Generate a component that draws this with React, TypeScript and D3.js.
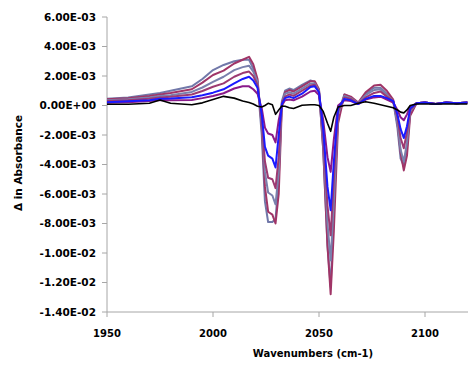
import React from "react";
import * as d3 from "d3";

// wavenumbers (cm-1) shared by every trace
const wavenumbers = [
  1950, 1960, 1970, 1975, 1980, 1990, 1995, 2000, 2005, 2010, 2014, 2017, 2019, 2021, 2023, 2024.5,
  2026, 2028, 2029.5, 2031, 2032.5, 2034, 2036, 2038, 2042, 2046, 2048, 2050, 2052, 2054,
  2055.5, 2057, 2059, 2062, 2065, 2068.5, 2072, 2076, 2079, 2082, 2085, 2087, 2088.5, 2090,
  2091.5, 2093, 2096, 2100, 2105, 2110, 2115, 2120,
];

// values in units of 1e-3 absorbance
const slateA = [
  0.45, 0.55, 0.75, 0.85, 1.0, 1.3, 1.8, 2.4, 2.75, 3.0, 3.1, 3.1, 2.5, 1.6, -2.0, -6.5,
  -7.9, -7.9, -7.7, -5.0, 0.3, 1.0, 1.15, 1.05, 1.4, 1.7, 1.6, 1.0, -3.0, -9.5,
  -12.3, -7.0, -0.5, 0.75, 0.55, 0.15, 0.8, 1.2, 1.2, 0.8, 0.3, -1.5, -3.6, -4.1,
  -2.8, -0.5, 0.15, 0.2, 0.1, 0.2, 0.15, 0.2,
];
const maroonB = [
  0.42, 0.5, 0.65, 0.75, 0.85, 1.1, 1.55, 2.07, 2.36, 2.85, 3.1, 3.3, 2.8, 1.8, -1.5, -5.5,
  -7.2, -7.4, -8.0, -6.0, 0.0, 0.9, 1.05, 0.95, 1.3, 1.65, 1.65, 1.1, -3.0, -9.5,
  -12.8, -8.5, -1.2, 0.75, 0.6, 0.2, 0.9, 1.35, 1.4, 1.0, 0.4, -1.2, -3.2, -4.4,
  -3.4, -0.7, 0.15, 0.2, 0.1, 0.2, 0.15, 0.2,
];
const slateC = [
  0.35, 0.42, 0.55, 0.65, 0.7, 0.92, 1.22, 1.6, 1.95, 2.4, 2.6, 2.7, 2.3, 1.6, -1.3, -4.5,
  -5.9, -6.1, -6.7, -4.5, 0.2, 0.8, 0.9, 0.8, 1.15, 1.5, 1.5, 1.0, -2.5, -8.0,
  -10.5, -6.5, -0.6, 0.65, 0.5, 0.15, 0.7, 1.05, 1.1, 0.7, 0.3, -1.2, -3.0, -3.8,
  -2.5, -0.4, 0.15, 0.2, 0.1, 0.2, 0.15, 0.2,
];
const maroonD = [
  0.3, 0.35, 0.45, 0.55, 0.6, 0.75, 0.98, 1.27, 1.5, 1.95, 2.2, 2.3, 2.0, 1.4, -1.0, -3.8,
  -4.9, -5.0, -5.6, -3.5, 0.2, 0.6, 0.75, 0.65, 1.0, 1.35, 1.4, 0.9, -2.0, -6.8,
  -8.8, -5.0, -0.4, 0.55, 0.45, 0.12, 0.55, 0.85, 0.95, 0.6, 0.3, -0.8, -2.2, -2.9,
  -1.8, -0.3, 0.15, 0.2, 0.1, 0.2, 0.15, 0.2,
];
const blueE = [
  0.22, 0.28, 0.35, 0.45, 0.47, 0.56, 0.7, 0.87, 1.1, 1.5, 1.8, 1.95, 1.7, 1.2, -0.6, -2.8,
  -3.4, -3.6, -4.2, -2.0, 0.1, 0.5, 0.6, 0.5, 0.8, 1.25, 1.3, 0.9, -1.6, -5.5,
  -7.1, -3.8, -0.2, 0.45, 0.35, 0.1, 0.45, 0.65, 0.65, 0.5, 0.3, -0.6, -1.6, -2.2,
  -1.4, -0.2, 0.15, 0.2, 0.1, 0.2, 0.15, 0.2,
];
const purpleF = [
  0.18, 0.22, 0.3, 0.38, 0.35, 0.38, 0.5, 0.64, 0.83, 1.15, 1.3, 1.3, 1.1, 0.8, -0.2, -1.5,
  -1.9, -2.0, -2.5, -1.0, 0.0, 0.35, 0.4, 0.35, 0.6, 0.95, 1.0, 0.7, -1.0, -3.5,
  -4.5, -2.3, 0.0, 0.35, 0.3, 0.1, 0.4, 0.55, 0.6, 0.4, 0.2, -0.3, -0.8, -1.0,
  -0.6, -0.1, 0.15, 0.2, 0.1, 0.2, 0.15, 0.2,
];
const blackRef = [
  0.08, 0.08, 0.15, 0.37, 0.15, 0.05, 0.18, 0.4, 0.62, 0.5, 0.3, 0.2, 0.1, -0.05, -0.1, 0.0,
  0.15, 0.05, -0.6, -0.3, -0.03, -0.05, -0.15, -0.2, 0.02, 0.05, 0.05, 0.0, -0.4, -1.2,
  -1.75, -0.8, -0.1, 0.0, 0.0, 0.15, 0.25, 0.15, 0.05, -0.05, -0.15, -0.3, -0.45, -0.5,
  -0.3, 0.0, 0.1, 0.1, 0.1, 0.1, 0.1, 0.1,
];

const yTicks = [6, 4, 2, 0, -2, -4, -6, -8, -10, -12, -14];
const xTicks = [1950, 2000, 2050, 2100];

const series = [
  { values: slateA, color: "#7178a9", width: 2 },
  { values: maroonB, color: "#a03567", width: 2 },
  { values: slateC, color: "#7a80ad", width: 2 },
  { values: maroonD, color: "#9c3a72", width: 2 },
  { values: purpleF, color: "#8a1a8a", width: 2 },
  { values: blueE, color: "#1a1aff", width: 2 },
  { values: blackRef, color: "#000000", width: 1.6 },
];

const fmt = (v: number) => {
  const [m, e] = v.toExponential(2).split("e");
  const n = parseInt(e, 10);
  return m + "E" + (n < 0 ? "-" : "+") + String(Math.abs(n)).padStart(2, "0");
};

const App = () => {
  const left = 107;
  const right = 467.4;
  const top = 17;
  const bottom = 312;

  const x = d3.scaleLinear().domain([1950, 2120]).range([left, right]);
  const y = d3.scaleLinear().domain([-0.014, 0.006]).range([bottom, top]);

  const line = d3
    .line<number>()
    .x((_, i) => x(wavenumbers[i]))
    .y((d) => y(d * 1e-3));

  const font = "'DejaVu Sans', sans-serif";
  const axisColor = "#a6a6a6";

  return (
    <svg
      width={469}
      height={369}
      style={{ position: "absolute", left: 0, top: 0, background: "white" }}
    >
      {/* y axis */}
      <line x1={left} x2={left} y1={top} y2={bottom} stroke={axisColor} strokeWidth={1} />
      {yTicks.map((t) => (
        <g key={t}>
          <line x1={left - 5} x2={left} y1={y(t * 1e-3)} y2={y(t * 1e-3)} stroke={axisColor} />
          <text
            x={96}
            y={y(t * 1e-3)}
            dy="0.36em"
            textAnchor="end"
            fontFamily={font}
            fontWeight="bold"
            fontSize={10.5}
            fill="#000"
          >
            {fmt(t * 1e-3)}
          </text>
        </g>
      ))}
      {/* x axis */}
      <line x1={left} x2={468} y1={bottom} y2={bottom} stroke={axisColor} strokeWidth={1} />
      {xTicks.map((t) => (
        <g key={t}>
          <line x1={x(t)} x2={x(t)} y1={bottom} y2={bottom + 5} stroke={axisColor} />
          <text
            x={x(t)}
            y={337}
            textAnchor="middle"
            fontFamily={font}
            fontWeight="bold"
            fontSize={10}
            fill="#000"
          >
            {t}
          </text>
        </g>
      ))}

      {series.map((s, i) => (
        <path
          key={i}
          d={line(s.values) || ""}
          fill="none"
          stroke={s.color}
          strokeWidth={s.width}
          strokeLinejoin="round"
        />
      ))}

      <text
        x={313}
        y={357}
        textAnchor="middle"
        fontFamily={font}
        fontWeight="bold"
        fontSize={10}
      >
        Wavenumbers (cm-1)
      </text>
      <text
        transform="translate(21.5,163) rotate(-90)"
        textAnchor="middle"
        fontFamily={font}
        fontWeight="bold"
        fontSize={10.5}
      >
        Δ in Absorbance
      </text>
    </svg>
  );
};

export default App;
